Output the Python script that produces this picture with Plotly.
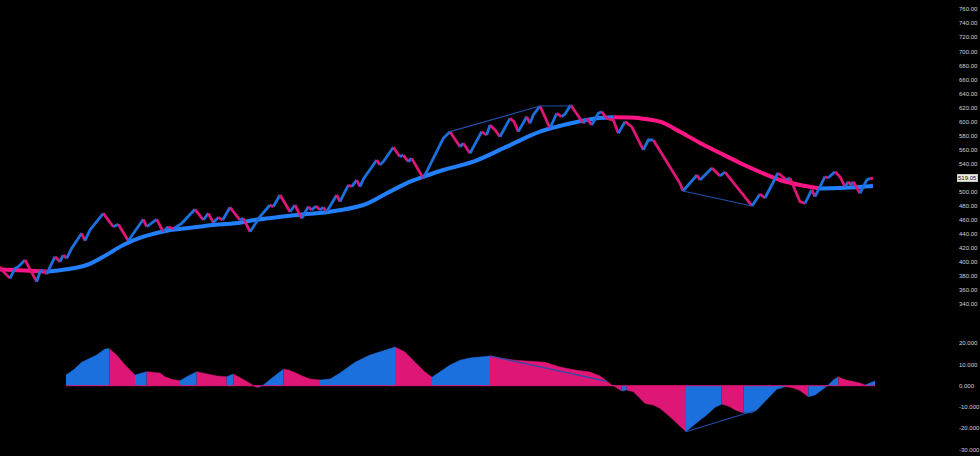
import plotly.graph_objects as go

# ---------------- data ----------------
# price path (renko pivots): bar index and price
price_idx = [0, 3.3, 10, 15, 18.3, 25, 31.7, 36.7, 40, 43.3, 46.7, 55, 60, 63.3, 66.7, 71.7, 81.7, 85, 90,
             103.3, 113.3, 118.3, 128.3, 143.3, 146.7, 156.7, 163.3, 168.3, 173.3, 181.7, 195, 203.3, 208.3,
             213.3, 218.3, 222.7, 230, 240, 243.3, 250, 260, 270, 273.3, 280, 290, 295, 301.7, 308.3, 311.7,
             316, 320, 323.3, 326.7, 336.7, 340, 348.3, 351.7, 356.7, 360, 363.3, 376.7, 380, 383.3, 393.3,
             400, 403.3, 408.3, 411.7, 423.3, 443.3, 450, 460, 463.3, 470, 481.7, 486.7, 490, 495, 500, 510,
             514, 518.3, 526.7, 530, 533.3, 540, 550, 556.7, 561.7, 565, 570.7, 576.7, 583.3, 586.7, 591.7,
             598.3, 601.7, 606.7, 613.3, 618.3, 625, 631.7, 643.3, 648.3, 653.3, 666.7, 680, 683, 697, 700,
             712, 720, 725, 752, 760, 765, 778, 786.7, 790, 800, 805, 811.7, 815, 825, 828, 835, 840, 845,
             848.3, 851, 853.3, 860, 866.7, 870, 873]
price_val = [393.2, 386.0, 376.6, 390.9, 393.2, 402.7, 383.8, 371.8, 386.0, 388.5, 382.7, 407.4, 400.3, 409.8,
             405.1, 419.4, 440.7, 430.2, 445.5, 469.2, 450.1, 453.6, 430.2, 460.7, 450.1, 460.7, 443.0, 450.1,
             447.3, 455.0, 475.0, 459.7, 469.2, 455.9, 463.5, 459.7, 477.8, 459.7, 462.1, 443.0, 464.4, 481.1,
             478.7, 495.4, 471.5, 481.1, 462.1, 478.7, 474.0, 479.7, 474.0, 477.8, 471.5, 495.4, 485.8, 509.6,
             507.2, 516.7, 507.2, 517.7, 545.2, 538.1, 542.8, 563.3, 549.9, 552.3, 542.8, 547.6, 519.1, 576.1,
             585.6, 564.2, 569.0, 554.8, 585.6, 580.8, 595.1, 588.0, 578.4, 604.6, 599.8, 585.6, 606.9, 597.5,
             609.4, 622.2, 590.4, 611.8, 607.0, 610.8, 623.6, 611.8, 597.5, 604.6, 595.1, 611.8, 614.1, 604.6,
             602.2, 583.3, 599.8, 592.7, 559.5, 573.7, 573.7, 542.8, 512.0, 501.0, 523.9, 516.7, 533.8, 522.4,
             528.1, 479.7, 496.8, 491.1, 526.7, 516.7, 519.6, 485.8, 483.5, 502.5, 492.9, 521.4, 519.6, 528.5,
             521.4, 507.2, 514.3, 509.6, 514.3, 497.8, 516.7, 519.1, 519.05]

# moving average
ma_idx = [0, 25, 46.7, 66.7, 86.7, 103.3, 123.3, 143.3, 166.7, 186.7, 213.3, 240, 250, 296.7, 330, 363.3,
          386.7, 410, 423.3, 443.3, 473.3, 506.7, 540, 573.3, 596.7, 613.3, 640, 660, 680, 700, 720, 740,
          760, 780, 800, 820, 840, 860, 873]
ma_val = [389.2, 387.7, 386.0, 389.4, 395.6, 407.4, 424.1, 435.9, 444.5, 447.9, 452.6, 455.9, 458.7, 466.9,
          471.5, 481.1, 497.8, 514.3, 521.4, 531.0, 542.8, 564.2, 585.6, 598.4, 604.7, 606.1, 604.7, 599.8,
          585.6, 569.5, 555.2, 541.0, 528.1, 516.7, 509.6, 504.6, 505.3, 506.7, 508.1]

# oscillator histogram
osc_idx = [66, 73.3, 81.7, 90, 96.7, 105, 109.3, 116.7, 125, 135, 140, 146.7, 155, 160, 165, 171.7, 180,
           186.7, 196.7, 201.7, 208.3, 216.7, 226.7, 233.3, 243.3, 250, 255, 258.3, 263.3, 271.7, 283.3,
           288.3, 296.7, 300, 310, 320, 330, 340, 355, 370, 385, 395, 405, 415, 425, 432, 440, 450, 460,
           470, 480, 490, 500, 515, 530, 545, 560, 575, 590, 600, 606.7, 611.7, 615, 621.7, 626.7, 633.3,
           640, 645, 653.3, 660, 670, 680, 686, 691.7, 700, 706.7, 715, 721.7, 728.3, 736.7, 743.3, 751.7,
           756.7, 763.3, 770, 776.7, 785, 791.7, 800, 808.3, 815, 821.7, 828.3, 833.3, 838.3, 843.3, 850,
           860, 865, 870, 875]
osc_val = [5.0, 7.4, 11.0, 12.9, 14.4, 17.2, 17.4, 14.4, 9.7, 5.0, 5.8, 6.6, 6.1, 6.0, 4.2, 3.0, 2.3, 4.2,
           6.6, 6.1, 5.5, 4.6, 4.2, 5.5, 3.0, 1.1, -0.5, -0.8, 0.3, 3.5, 7.7, 7.4, 5.8, 5.0, 3.1, 2.7, 3.1,
           6.0, 11.0, 14.4, 16.8, 18.2, 15.8, 11.0, 6.4, 4.0, 6.4, 9.7, 12.0, 13.0, 13.5, 14.0, 13.0, 12.0,
           11.6, 11.0, 8.8, 7.4, 6.4, 4.6, 2.2, 0.3, -0.5, -2.5, -2.0, -2.8, -5.9, -8.3, -9.1, -10.6, -14.6,
           -18.9, -21.6, -19.2, -16.1, -13.8, -10.1, -8.7, -9.5, -11.7, -12.7, -12.7, -11.4, -8.3, -4.8,
           -1.7, -0.5, -0.8, -2.3, -5.2, -4.4, -2.0, 0.3, 2.7, 4.2, 3.0, 2.3, 1.3, 0.3, 1.3, 2.2]

# divergence lines (idx, value pairs)
price_div_a = ([450, 540, 572], [585.6, 622.2, 622.2])
price_div_b = ([683, 752], [501.0, 479.7])
osc_div_a = ([490, 607], [14.0, 2.0])
osc_div_b = ([686, 757], [-21.6, -11.4])

last_price = 519.05
price_ticks = [760, 740, 720, 700, 680, 660, 640, 620, 600, 580, 560, 540, 500, 480, 460, 440, 420, 400,
               380, 360, 340]
osc_ticks = [20, 10, 0, -10, -20, -30]

# ---------------- styling ----------------
BLUE = "rgb(28,112,222)"
PINK = "rgb(222,22,118)"
MA_BLUE = "rgb(34,128,255)"
MA_PINK = "rgb(255,22,132)"
DIV = "rgb(36,78,170)"
TXT = "rgb(210,210,215)"
FONT = "Liberation Sans"
FS = 6

fig = go.Figure()


def runs(xs, ys):
    """split a polyline into runs of rising / falling segments"""
    out = []
    cur = None
    for i in range(len(xs) - 1):
        up = ys[i + 1] >= ys[i]
        if cur is None or cur[0] != up:
            cur = [up, [xs[i]], [ys[i]]]
            out.append(cur)
        cur[1].append(xs[i + 1])
        cur[2].append(ys[i + 1])
    return out


# histogram (lower panel)
for up, xs, ys in runs(osc_idx, osc_val):
    c = BLUE if up else PINK
    fig.add_trace(go.Scatter(x=xs, y=ys, mode="lines", fill="tozeroy", fillcolor=c,
                             line=dict(color=c, width=0.5), yaxis="y2", hoverinfo="skip",
                             showlegend=False))
fig.add_trace(go.Scatter(x=[osc_idx[0], osc_idx[-1]], y=[0, 0], mode="lines",
                         line=dict(color=PINK, width=1), yaxis="y2", showlegend=False))

# moving average
for up, xs, ys in runs(ma_idx, ma_val):
    c = MA_BLUE if up else MA_PINK
    fig.add_trace(go.Scatter(x=xs, y=ys, mode="lines", line=dict(color=c, width=4, shape="spline"),
                             hoverinfo="skip", showlegend=False))

# price path
for up, xs, ys in runs(price_idx, price_val):
    c = BLUE if up else PINK
    fig.add_trace(go.Scatter(x=xs, y=ys, mode="lines", line=dict(color=c, width=2.8),
                             hoverinfo="skip", showlegend=False))

# divergence lines
for (xs, ys), ax in [(price_div_a, "y"), (price_div_b, "y"), (osc_div_a, "y2"), (osc_div_b, "y2")]:
    fig.add_trace(go.Scatter(x=xs, y=ys, mode="lines", line=dict(color=DIV, width=1.2), yaxis=ax,
                             hoverinfo="skip", showlegend=False))

fig.add_annotation(x=1, xref="paper", xanchor="left", xshift=1, y=last_price, yref="y",
                   text=f"{last_price:.2f}", showarrow=False, bgcolor="rgb(235,235,225)",
                   bordercolor="rgb(200,200,190)", borderwidth=1, borderpad=0,
                   font=dict(size=FS, color="rgb(20,20,20)", family=FONT))

fig.update_layout(
    width=980, height=456,
    margin=dict(l=0, r=24, t=0, b=0),
    paper_bgcolor="black", plot_bgcolor="black",
    showlegend=False,
    xaxis=dict(range=[0, 956], visible=False, showgrid=False, zeroline=False, automargin=False),
    yaxis=dict(domain=[0.2807, 1], range=[305.8, 773.25], side="right", showgrid=False, zeroline=False,
               tickvals=price_ticks, ticktext=[f"{v:.2f}" for v in price_ticks], ticks="",
               ticklabelstandoff=2, automargin=False,
               tickfont=dict(size=FS, color=TXT, family=FONT)),
    yaxis2=dict(domain=[0, 0.2807], range=[-33.0, 27.1], side="right", showgrid=False, zeroline=False,
                anchor="x", tickvals=osc_ticks, ticktext=[f"{v:.3f}" for v in osc_ticks], ticks="",
                ticklabelstandoff=2, automargin=False,
                tickfont=dict(size=FS, color=TXT, family=FONT)),
)

fig.write_html("out.html", config={"displayModeBar": False},
               post_script="document.body.style.margin='0';document.body.style.background='black';")
